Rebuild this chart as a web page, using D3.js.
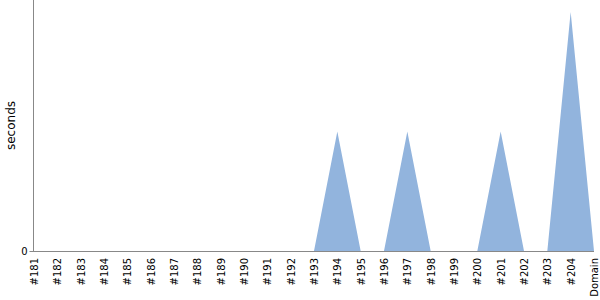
<!DOCTYPE html>
<html>
<head>
<meta charset="utf-8">
<script src="https://cdn.jsdelivr.net/npm/d3@7"></script>
<style>
  body { margin: 0; background: #fff; }
</style>
</head>
<body>
<div class="chart"></div>
<script>
var categories = ["#181", "#182", "#183", "#184", "#185", "#186", "#187", "#188",
  "#189", "#190", "#191", "#192", "#193", "#194", "#195", "#196", "#197", "#198",
  "#199", "#200", "#201", "#202", "#203", "#204", "Domain"];
var seconds = [0, 0, 0, 0, 0, 0, 0, 0, 0, 0, 0, 0, 0, 1, 0, 0, 1, 0, 0, 0, 1, 0, 0, 2, 0];
var yTicks = [0];

var width = 600, height = 300;
var margin = { top: 0, right: 6, bottom: 49, left: 34 };
var font = "'DejaVu Sans'";

var svg = d3.select(".chart")
  .append("svg")
  .attr("width", width)
  .attr("height", height)
  .style("font-family", font);

var x = d3.scalePoint()
  .domain(categories)
  .range([margin.left, width - margin.right]);

var y = d3.scaleLinear()
  .domain([0, 2.1])
  .range([height - margin.bottom, margin.top]);

var area = d3.area()
  .x(function (d, i) { return x(categories[i]); })
  .y0(y(0))
  .y1(function (d) { return y(d); });

svg.append("path")
  .datum(seconds)
  .attr("d", area)
  .style("fill", "#92b4dd");

// x axis
var xAxis = svg.append("g")
  .attr("transform", "translate(0," + y(0) + ")")
  .call(d3.axisBottom(x).tickSize(0).tickPadding(0));
xAxis.attr("font-family", null);
xAxis.select(".domain").attr("d", "M" + (margin.left - 1) + ",0.5H" + (width - margin.right)).style("stroke", "#888");
xAxis.selectAll("text")
  .style("font-family", font)
  .style("font-size", "10px")
  .style("fill", "#000")
  .attr("text-anchor", "end")
  .attr("transform", "rotate(-90)")
  .attr("x", -7)
  .attr("y", 0)
  .attr("dy", "0.35em");

// y axis
var yAxis = svg.append("g")
  .attr("transform", "translate(" + (margin.left - 0.5) + ",0)")
  .call(d3.axisLeft(y).tickValues(yTicks).tickFormat(d3.format("d")).tickSize(4).tickPadding(2));
yAxis.attr("font-family", null);
yAxis.select(".domain").attr("d", "M0," + margin.top + "V" + (y(0) + 0.5)).style("stroke", "#888");
yAxis.selectAll(".tick line").style("stroke", "#888");
yAxis.selectAll("text").style("font-family", font).style("font-size", "10px").style("fill", "#000");

svg.append("text")
  .attr("transform", "rotate(-90)")
  .attr("x", -(y(0) + margin.top) / 2)
  .attr("y", 15)
  .attr("text-anchor", "middle")
  .style("font-family", font)
  .style("font-size", "12px")
  .text("seconds");
</script>
</body>
</html>
